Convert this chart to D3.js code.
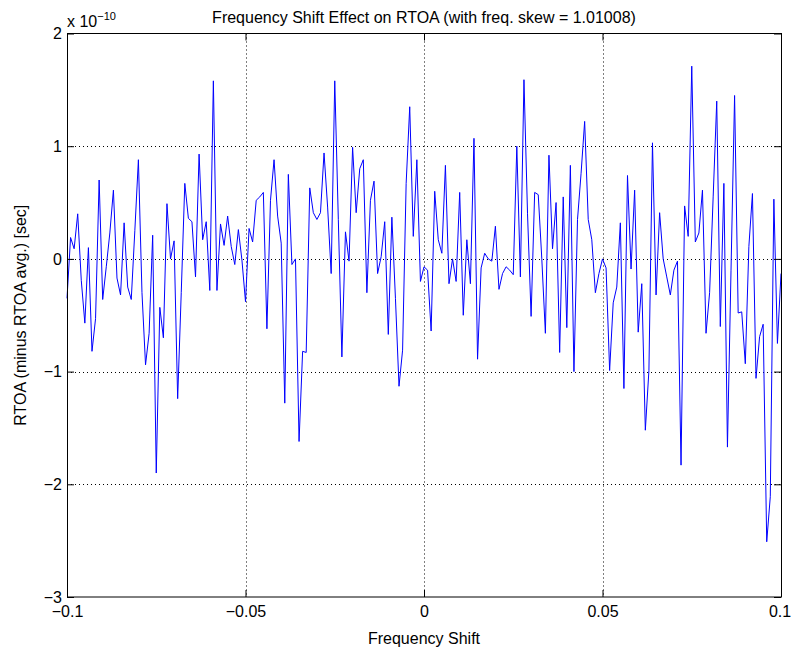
<!DOCTYPE html>
<html><head><meta charset="utf-8">
<script src="https://cdn.jsdelivr.net/npm/d3@7"></script>
<style>body{margin:0;background:#fff}text{font-family:"Liberation Sans",Arial,Helvetica,sans-serif;fill:#000}</style>
</head><body>
<svg id="c" width="791" height="650"></svg>
<script>
const title = "Frequency Shift Effect on RTOA (with freq. skew = 1.01008)";
const xLabel = "Frequency Shift";
const yLabel = "RTOA (minus RTOA avg.) [sec]";
const xDomain = [-0.1, 0.1];
const yDomain = [-3, 2];
const xTicks = [-0.1, -0.05, 0, 0.05, 0.1];
const xTickLabels = ["\u22120.1", "\u22120.05", "0", "0.05", "0.1"];
const yTicks = [-3, -2, -1, 0, 1, 2];
const yTickLabels = ["\u22123", "\u22122", "\u22121", "0", "1", "2"];
const freqStart = -0.1, freqStep = 0.001;
// RTOA values in units of 1e-10 sec
const rtoa = [
-0.35,0.19,0.09,0.40,-0.19,-0.57,0.10,-0.82,-0.53,0.70,
-0.36,-0.07,0.23,0.61,-0.17,-0.32,0.32,-0.25,-0.36,0.25,
0.88,-0.30,-0.94,-0.66,0.21,-1.90,-0.43,-0.70,0.49,0.00,
0.16,-1.24,-0.30,0.67,0.36,0.33,-0.16,0.93,0.17,0.33,
-0.28,1.58,-0.28,0.31,0.12,0.38,0.11,-0.05,0.26,-0.01,
-0.38,0.27,0.15,0.52,0.55,0.59,-0.62,0.52,0.88,0.38,
0.14,-1.28,0.75,-0.05,0.00,-1.62,-0.82,-0.83,0.63,0.41,
0.35,0.41,0.94,0.46,-0.13,1.58,0.35,-0.87,0.24,-0.02,
0.99,0.41,0.80,0.88,-0.30,0.52,0.69,-0.13,0.02,0.33,
-0.67,0.37,-0.35,-1.13,-0.81,0.67,1.35,0.20,0.88,-0.20,
-0.07,-0.10,-0.64,0.60,0.17,0.05,0.83,-0.22,0.00,-0.20,
0.59,-0.50,0.17,-0.22,1.07,-0.89,-0.08,0.05,0.00,-0.02,
0.29,-0.27,-0.13,-0.07,-0.10,-0.14,1.00,-0.16,1.59,0.40,
-0.51,0.59,0.57,0.00,-0.66,0.92,0.09,0.50,-0.83,0.55,
-0.61,0.83,-1.00,0.35,0.76,1.22,0.35,0.17,-0.30,-0.13,
0.00,-0.08,-0.99,-0.39,-0.25,0.32,-1.15,0.74,-0.09,0.61,
-0.65,-0.22,-1.52,-0.99,1.03,-0.32,0.41,0.00,-0.16,-0.32,
-0.10,-0.02,-1.83,0.47,0.20,1.71,0.15,0.23,0.61,-0.66,
-0.30,0.55,1.40,-0.60,0.67,-1.67,-0.10,1.45,-0.48,-0.47,
-0.93,0.11,0.58,-1.06,-0.69,-0.58,-2.51,-2.11,0.53,-0.75,
-0.13
];
const data = rtoa.map((v, i) => ({f: freqStart + i * freqStep, v}));

const svg = d3.select("#c");
const L = 67, R = 781, T = 33.5, B = 597;
const x = d3.scaleLinear().domain(xDomain).range([L, R]);
const y = d3.scaleLinear().domain(yDomain).range([B, T]);

// grid
const grid = svg.append("g").attr("stroke", "#000").attr("stroke-width", 1).attr("stroke-dasharray", "1,3");
grid.selectAll("line.gx").data(xTicks.slice(1, -1)).join("line")
  .attr("x1", d => Math.round(x(d)) + 0.5).attr("x2", d => Math.round(x(d)) + 0.5)
  .attr("y1", T).attr("y2", B);
grid.selectAll("line.gy").data(yTicks.slice(1, -1)).join("line")
  .attr("y1", d => Math.round(y(d)) + 0.5).attr("y2", d => Math.round(y(d)) + 0.5)
  .attr("x1", L).attr("x2", R);

// data line
svg.append("path").datum(data)
  .attr("fill", "none").attr("stroke", "#0000ff").attr("stroke-width", 1)
  .attr("d", d3.line().x(d => x(d.f)).y(d => y(d.v)));

// axes
const fmtX = d => xTickLabels[xTicks.indexOf(d)];
const fmtY = d => yTickLabels[yTicks.indexOf(d)];
function style(g) {
  g.select(".domain").remove();
  g.selectAll(".tick line").attr("stroke", "#000");
  g.selectAll("text").attr("font-size", 16).attr("fill", "#000")
    .attr("font-family", "'Liberation Sans',Arial,Helvetica,sans-serif");
}
const xb = svg.append("g").attr("transform", `translate(0,${B})`)
  .call(d3.axisBottom(x).tickValues(xTicks).tickFormat(fmtX).tickSize(-7).tickPadding(9)).call(style);
xb.selectAll(".tick text").filter(d => d === xDomain[1]).attr("dx", -1.5);
svg.append("g").attr("transform", `translate(0,${T})`)
  .call(d3.axisTop(x).tickValues(xTicks).tickFormat("").tickSize(-7)).call(style);
svg.append("g").attr("transform", `translate(${L},0)`)
  .call(d3.axisLeft(y).tickValues(yTicks).tickFormat(fmtY).tickSize(-7).tickPadding(5)).call(style);
svg.append("g").attr("transform", `translate(${R},0)`)
  .call(d3.axisRight(y).tickValues(yTicks).tickFormat("").tickSize(-7)).call(style);

// box
svg.append("rect").attr("x", L + 0.5).attr("y", T).attr("width", R - L).attr("height", B - T)
  .attr("fill", "none").attr("stroke", "#000").attr("stroke-width", 1);

// texts
svg.append("text").attr("x", (L + R) / 2).attr("y", 23).attr("text-anchor", "middle")
  .attr("font-size", 16).text(title);
svg.append("text").attr("x", (L + R) / 2).attr("y", 644).attr("text-anchor", "middle")
  .attr("font-size", 16).text(xLabel);
svg.append("text").attr("transform", `translate(26,${(T + B) / 2}) rotate(-90)`).attr("text-anchor", "middle")
  .attr("font-size", 16).text(yLabel);
const ex = svg.append("text").attr("x", 67).attr("y", 27).attr("font-size", 16);
ex.append("tspan").text("x 10");
ex.append("tspan").attr("font-size", 11).attr("dy", -7).text("\u221210");
</script>
</body></html>
